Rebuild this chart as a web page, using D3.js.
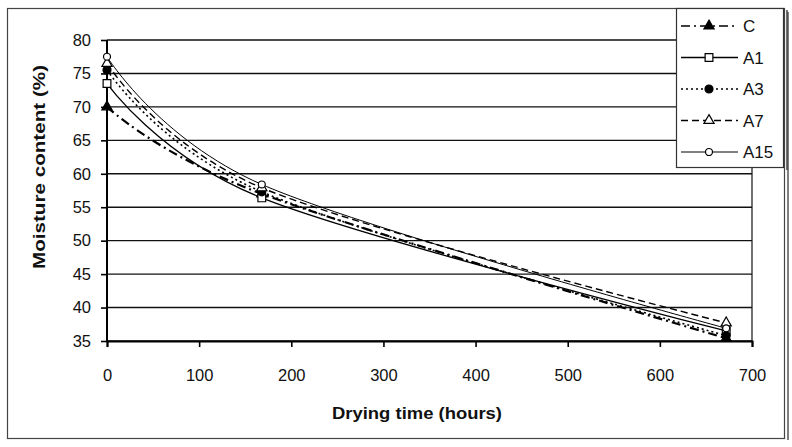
<!DOCTYPE html>
<html>
<head>
<meta charset="utf-8">
<script src="https://cdn.jsdelivr.net/npm/d3@7"></script>
<style>
  body { margin: 0; background: #fff; }
  text { font-family: "Liberation Sans", Arial, sans-serif; fill: #111; }
</style>
</head>
<body>
<div id="chart"></div>
<script>
// drying time (hours) at which samples were weighed
var hours = [0, 168, 672];
var seriesNames = ["C", "A1", "A3", "A7", "A15"];
var valuesC = [70.0, 57.0, 35.4];
var valuesA1 = [73.5, 56.4, 36.5];
var valuesA3 = [75.5, 57.3, 35.8];
var valuesA7 = [76.5, 57.9, 37.7];
var valuesA15 = [77.5, 58.4, 36.9];
var yTicks = [35, 40, 45, 50, 55, 60, 65, 70, 75, 80];
var xTicks = [0, 100, 200, 300, 400, 500, 600, 700];

var width = 792, height = 447;

var svg = d3.select("#chart").append("svg")
    .attr("width", width)
    .attr("height", height);

// outer frame with a small shadow on the right
svg.append("line").attr("x1", 788).attr("x2", 788).attr("y1", 12).attr("y2", 440)
    .attr("stroke", "#555").attr("stroke-width", 1.5);
svg.append("rect").attr("x", 7.5).attr("y", 8.5).attr("width", 777).attr("height", 430)
    .attr("fill", "none").attr("stroke", "#444").attr("stroke-width", 1.2);

var x = d3.scaleLinear().domain([0, 700]).range([107, 752]);
var y = d3.scaleLinear().domain([35, 80]).range([341, 40]);

// grid lines
svg.append("g").selectAll("line").data(yTicks).enter().append("line")
    .attr("x1", x(0)).attr("x2", x(700))
    .attr("y1", d => y(d)).attr("y2", d => y(d))
    .attr("stroke", "#111").attr("stroke-width", 1.4);
svg.append("line").attr("x1", x(700)).attr("x2", x(700)).attr("y1", y(80)).attr("y2", y(35))
    .attr("stroke", "#111").attr("stroke-width", 1.2);

var yAxis = svg.append("g")
    .attr("transform", "translate(" + x(0) + ",0)")
    .call(d3.axisLeft(y).tickValues(yTicks).tickSize(6).tickPadding(10));
var xAxis = svg.append("g")
    .attr("transform", "translate(0," + y(35) + ")")
    .call(d3.axisBottom(x).tickValues(xTicks).tickSize(6).tickPadding(22));
[yAxis, xAxis].forEach(function(a) {
    a.select(".domain").attr("stroke", "#000").attr("stroke-width", 2);
    a.selectAll(".tick line").attr("stroke", "#000").attr("stroke-width", 1.6);
    a.selectAll("text").style("font-size", "16.5px").attr("fill", "#111")
        .style("font-family", "'Liberation Sans', Arial, sans-serif");
});
yAxis.selectAll(".domain").attr("d", "M0," + y(80) + "V" + y(35));

svg.append("text")
    .attr("transform", "translate(45,167) rotate(-90)")
    .attr("text-anchor", "middle")
    .attr("textLength", 204).attr("lengthAdjust", "spacingAndGlyphs")
    .style("font-size", "17px").style("font-weight", "bold")
    .text("Moisture content (%)");
svg.append("text")
    .attr("x", 417).attr("y", 419)
    .attr("text-anchor", "middle")
    .attr("textLength", 170).attr("lengthAdjust", "spacingAndGlyphs")
    .style("font-size", "17px").style("font-weight", "bold")
    .text("Drying time (hours)");

var styles = {
    C:   {dash: "9,4,2,4", width: 2.2, marker: "triangle", fill: "#000"},
    A1:  {dash: null, width: 1.3, marker: "square", fill: "#fff"},
    A3:  {dash: "2,3", width: 1.6, marker: "circle", fill: "#000"},
    A7:  {dash: "7,4", width: 1.4, marker: "triangle", fill: "#fff"},
    A15: {dash: null, width: 1.0, marker: "diamond", fill: "#fff"}
};
var allValues = {C: valuesC, A1: valuesA1, A3: valuesA3, A7: valuesA7, A15: valuesA15};

// smoothed lines, like the spreadsheet's
var line = d3.line()
    .x(d => x(d[0])).y(d => y(d[1]))
    .curve(d3.curveCardinal.tension(0));

var symbolTypes = {
    triangle: d3.symbolTriangle, square: d3.symbolSquare,
    circle: d3.symbolCircle, diamond: d3.symbolCircle
};
var symbolSizes = {triangle: 45, square: 60, circle: 50, diamond: 38};

function drawMarker(g, name, cx, cy) {
    var s = styles[name];
    g.append("path")
        .attr("d", d3.symbol().type(symbolTypes[s.marker]).size(symbolSizes[s.marker])())
        .attr("transform", "translate(" + cx + "," + cy + ")")
        .attr("fill", s.fill).attr("stroke", "#000").attr("stroke-width", 1.2);
}

var plot = svg.append("g");
seriesNames.forEach(function(name) {
    var s = styles[name];
    var pts = hours.map((h, i) => [h, allValues[name][i]]);
    plot.append("path").datum(pts)
        .attr("d", line)
        .attr("fill", "none").attr("stroke", "#000")
        .attr("stroke-width", s.width)
        .attr("stroke-dasharray", s.dash);
});
seriesNames.forEach(function(name) {
    hours.forEach(function(h, i) {
        drawMarker(plot, name, x(h), y(allValues[name][i]));
    });
});

// legend
var legend = svg.append("g");
legend.append("line").attr("x1", 787).attr("x2", 787).attr("y1", 10).attr("y2", 170)
    .attr("stroke", "#444").attr("stroke-width", 1.5);
legend.append("rect").attr("x", 676.5).attr("y", 8.5).attr("width", 107).attr("height", 159)
    .attr("fill", "#fff").attr("stroke", "#333").attr("stroke-width", 1.2);
seriesNames.forEach(function(name, i) {
    var s = styles[name];
    var ly = 26 + i * 31.5;
    legend.append("line").attr("x1", 681).attr("x2", 738).attr("y1", ly).attr("y2", ly)
        .attr("stroke", "#000").attr("stroke-width", Math.min(s.width, 1.6))
        .attr("stroke-dasharray", s.dash);
    drawMarker(legend, name, 709, ly);
    legend.append("text").attr("x", 743).attr("y", ly + 6)
        .style("font-size", "17px").text(name);
});
</script>
</body>
</html>
